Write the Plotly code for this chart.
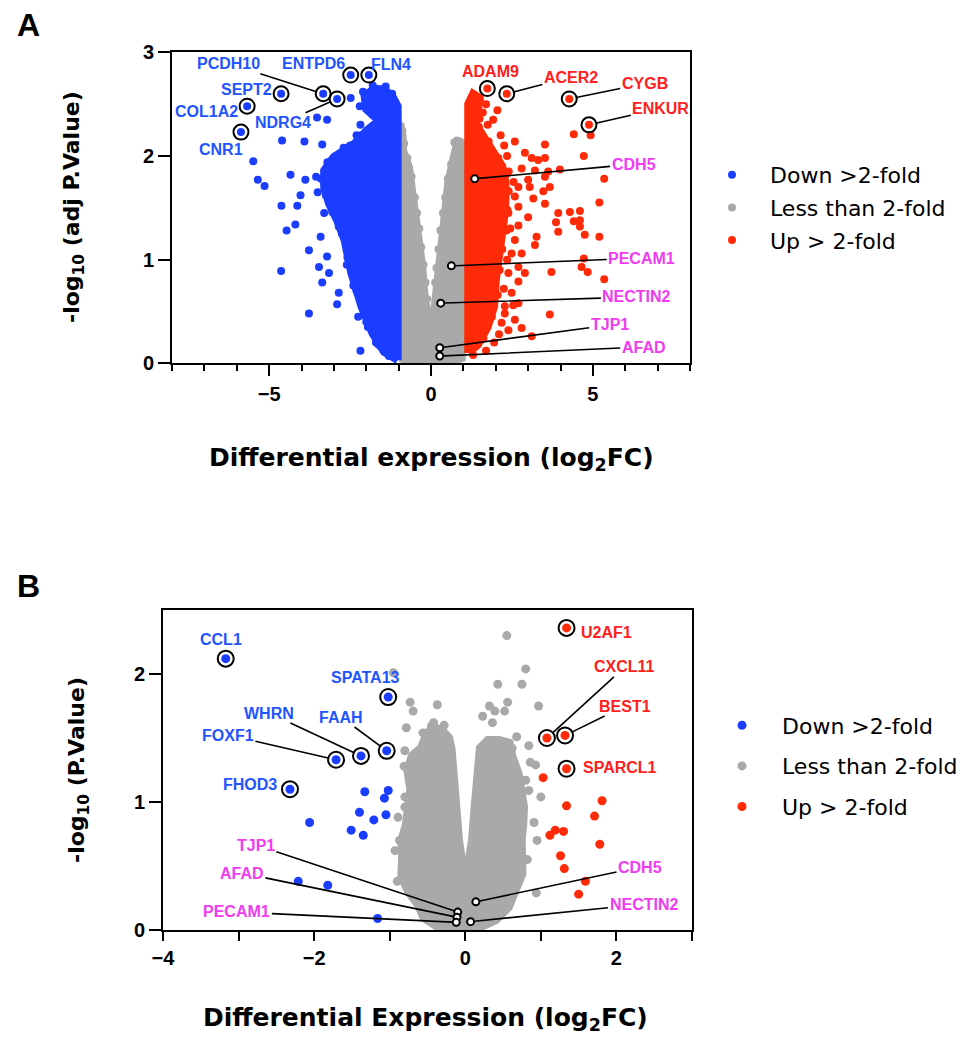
import plotly.graph_objects as go

# ======================= DATA =======================
# ---- Panel A : -log10(adj P) vs log2FC ----
# dense clouds: dot centres along the edge of each dense point cloud
A_gray_cloud = [(-0.95, 0.05), (-0.95, 1.2), (-0.95, 2.24), (-0.88, 2.2), (-0.86, 2.05), (-0.68, 1.89),
                (-0.53, 1.57), (-0.38, 1.25), (-0.27, 0.93), (-0.19, 0.61), (-0.07, 0.42), (0.0, 0.36),
                (0.07, 0.42), (0.2, 0.77), (0.27, 1.09), (0.38, 1.41), (0.53, 1.73), (0.68, 1.96),
                (0.8, 2.11), (0.95, 2.11), (0.95, 1.2), (0.95, 0.05), (0.5, 0.0), (0.0, -0.03), (-0.5, 0.0)]
A_gray_dots = [(-0.93, 2.29), (-0.88, 2.24), (-0.83, 2.12), (-0.73, 1.98), (-0.6, 1.8), (-0.5, 1.6),
               (-0.43, 1.45), (-0.36, 1.3), (-0.3, 1.12), (-0.23, 0.95), (-0.17, 0.78), (-0.12, 0.62),
               (-0.04, 0.45), (0.72, 2.13), (0.8, 2.15), (0.9, 2.14), (0.62, 1.92), (0.52, 1.78),
               (0.44, 1.6), (0.37, 1.45), (0.29, 1.28), (0.23, 1.1), (0.17, 0.92), (0.13, 0.78), (0.05, 0.5)]
A_down_cloud = [(-1.03, 0.03), (-1.45, 0.11), (-1.81, 0.29), (-2.15, 0.55), (-2.46, 0.87), (-2.67, 1.19),
                (-2.9, 1.38), (-3.15, 1.54), (-3.3, 1.7), (-3.3, 1.86), (-3.0, 1.99), (-2.36, 2.12),
                (-1.97, 2.25), (-1.6, 2.34), (-2.0, 2.45), (-2.05, 2.58), (-1.75, 2.65), (-1.45, 2.64),
                (-1.2, 2.58), (-1.03, 2.48)]
A_down_dots = [(-5.49, 1.95), (-5.35, 1.77), (-5.14, 1.71), (-4.60, 2.15), (-3.91, 2.14), (-3.36, 2.11),
               (-4.34, 1.82), (-4.62, 1.52), (-4.13, 1.52), (-4.03, 1.62), (-4.46, 1.28), (-4.19, 1.34),
               (-4.63, 0.89), (-3.77, 1.09), (-3.77, 0.48), (-3.88, 1.77), (-3.41, 1.22), (-3.21, 1.03),
               (-3.46, 0.93), (-3.36, 0.78), (-3.15, 0.87), (-2.85, 0.68), (-2.90, 0.57), (-2.18, 0.12),
               (-3.21, 2.35), (-3.52, 2.37), (-2.48, 2.56), (-2.18, 2.30), (-1.81, 2.40), (-1.56, 2.33),
               (-3.55, 1.80), (-3.5, 1.65), (-3.3, 1.45), (-3.1, 1.95), (-2.7, 2.05), (-2.5, 2.1),
               (-2.3, 2.2), (-2.2, 2.48), (-2.1, 2.62), (-1.8, 2.68), (-1.4, 2.67), (-1.2, 2.6),
               (-2.55, 1.1), (-2.75, 1.25), (-2.4, 0.75), (-2.25, 0.45), (-1.95, 0.35), (-1.7, 0.2),
               (-1.3, 0.07), (-2.85, 1.32), (-3.05, 1.5), (-2.6, 0.95), (-2.0, 0.5),
               (-1.62, 0.18), (-2.0, 0.4), (-2.3, 0.7), (-2.58, 1.02), (-2.78, 1.3), (-3.05, 1.46),
               (-3.25, 1.62), (-3.4, 1.78), (-3.2, 1.94), (-2.7, 2.08), (-2.15, 2.2)]
A_up_cloud = [(1.15, 0.1), (1.45, 0.18), (1.75, 0.35), (1.95, 0.55), (2.0, 0.8), (2.1, 1.0), (2.2, 1.19),
              (2.25, 1.38), (2.3, 1.58), (2.3, 1.74), (2.2, 1.9), (1.9, 2.06), (1.59, 2.2), (1.34, 2.33),
              (1.45, 2.45), (1.5, 2.56), (1.3, 2.6), (1.15, 2.5)]
A_up_dots = [(2.05, 2.44), (1.92, 2.35), (1.22, 2.49), (1.31, 2.56), (1.51, 2.54), (4.41, 2.21), (4.93, 2.20),
             (4.72, 2.00), (5.35, 1.78), (5.20, 1.55), (5.20, 1.22), (4.72, 1.01), (4.65, 0.93), (4.84, 0.88),
             (5.35, 0.81), (3.72, 0.88), (3.67, 0.47), (4.29, 1.46), (4.60, 1.47), (4.60, 1.38), (4.60, 1.32),
             (4.41, 1.37), (3.93, 1.45), (3.86, 1.36), (3.93, 1.27), (4.75, 1.24), (3.98, 1.87), (3.52, 2.11),
             (3.52, 1.98), (2.59, 2.14), (2.26, 2.10), (2.90, 2.03), (3.31, 1.96), (3.62, 1.85), (3.47, 1.66),
             (3.52, 1.54), (3.16, 1.59), (3.05, 1.70), (3.00, 1.41), (3.26, 1.22), (3.21, 1.14), (2.70, 1.33),
             (2.80, 1.06), (2.90, 0.87), (2.70, 0.79), (2.54, 0.56), (2.28, 0.48), (2.80, 0.34), (3.11, 0.26),
             (2.39, 0.32), (1.46, 0.21), (3.11, 1.98), (3.21, 1.86), (2.80, 1.88), (3.00, 1.77), (3.52, 1.80),
             (3.67, 1.70), (2.70, 1.70), (2.59, 1.61), (2.70, 1.51), (2.39, 1.45), (2.59, 1.19), (2.49, 1.06),
             (2.70, 0.93), (2.39, 0.87), (2.49, 0.68), (2.28, 0.55), (2.70, 0.58), (2.18, 0.39), (2.59, 0.42),
             (2.4, 1.85), (2.55, 1.75), (2.45, 1.3), (2.35, 1.0), (2.25, 0.72), (2.1, 0.28), (1.95, 0.2),
             (1.7, 0.12), (1.3, 0.08), (2.15, 2.2), (2.35, 2.0), (1.75, 2.3), (1.6, 2.42), (1.7, 2.5),
             (1.62, 0.24), (1.88, 0.45), (2.06, 0.66), (2.12, 0.9), (2.2, 1.1), (2.33, 1.28), (2.36, 1.48),
             (2.4, 1.66), (2.32, 1.82), (2.08, 1.98), (1.78, 2.14), (1.48, 2.28), (1.5, 2.36)]
A_genes = ["PCDH10", "NDRG4", "ENTPD6", "FLN4", "SEPT2", "COL1A2", "CNR1",
           "ADAM9", "ACER2", "CYGB", "ENKUR",
           "CDH5", "PECAM1", "NECTIN2", "TJP1", "AFAD"]
A_gene_x = [-3.33, -2.90, -2.48, -1.92, -4.63, -5.68, -5.87, 1.74, 2.34, 4.27, 4.88, 1.35, 0.63, 0.30, 0.27, 0.27]
A_gene_y = [2.60, 2.55, 2.78, 2.78, 2.60, 2.48, 2.23, 2.65, 2.60, 2.55, 2.30, 1.78, 0.94, 0.58, 0.15, 0.07]
A_gene_class = ["down"] * 7 + ["up"] * 4 + ["junction"] * 5

# ---- Panel B : -log10(P) vs log2FC ----
B_gray_cloud = [(0.0, -0.03), (-0.35, 0.02), (-0.55, 0.1), (-0.62, 0.2), (-0.75, 0.3), (-0.84, 0.42),
                (-0.83, 0.55), (-0.84, 0.7), (-0.78, 0.82), (-0.74, 0.96), (-0.72, 1.1), (-0.76, 1.25),
                (-0.7, 1.36), (-0.58, 1.42), (-0.5, 1.54), (-0.4, 1.58), (-0.3, 1.55), (-0.22, 1.5),
                (-0.19, 1.42), (-0.16, 1.22), (-0.12, 0.96), (-0.09, 0.7), (0.0, 0.35), (0.095, 0.7),
                (0.13, 0.96), (0.16, 1.22), (0.2, 1.42), (0.3, 1.48), (0.45, 1.48), (0.58, 1.46),
                (0.62, 1.35), (0.70, 1.22), (0.74, 1.09), (0.77, 0.96), (0.76, 0.82), (0.74, 0.7),
                (0.75, 0.44), (0.66, 0.3), (0.57, 0.18), (0.4, 0.08), (0.2, 0.02)]
B_gray_dots = [(-0.95, 2.01), (0.55, 2.30), (0.80, 2.04), (0.43, 1.92), (0.75, 1.92), (-0.73, 1.78),
               (-0.37, 1.76), (-0.69, 1.71), (0.56, 1.78), (0.32, 1.75), (0.39, 1.71), (0.52, 1.71),
               (0.23, 1.67), (0.36, 1.62), (0.97, 1.75), (-0.78, 1.58), (-0.56, 1.54), (-0.45, 1.59),
               (-0.32, 1.54), (-0.80, 1.40), (-0.45, 1.39), (0.68, 1.51), (0.26, 1.45), (0.84, 1.44),
               (0.62, 1.42), (0.51, 1.43), (-0.81, 1.28), (-0.65, 1.28), (-0.80, 1.04), (-0.80, 0.96),
               (-0.89, 0.88), (-0.87, 0.70), (-0.93, 0.62), (-0.82, 0.49), (-0.90, 0.38), (1.0, 1.04),
               (0.91, 0.84), (0.94, 0.29), (-0.56, 0.13), (0.86, 1.31), (0.93, 1.29), (0.80, 1.17),
               (0.84, 1.09), (0.95, 0.70), (-0.42, 1.62), (-0.28, 1.6), (-0.62, 0.45), (0.82, 0.55)]
B_down_dots = [(-1.33, 1.08), (-1.02, 1.09), (-1.07, 1.03), (-1.40, 0.92), (-1.21, 0.86), (-1.05, 0.90),
               (-1.51, 0.78), (-1.35, 0.74), (-2.06, 0.84), (-2.21, 0.38), (-1.82, 0.35), (-1.16, 0.09)]
B_up_dots = [(1.03, 1.19), (1.34, 0.97), (1.81, 1.01), (1.71, 0.89), (1.12, 0.74), (1.19, 0.78), (1.30, 0.77),
             (1.78, 0.67), (1.26, 0.58), (1.31, 0.48), (1.59, 0.38), (1.50, 0.28)]
B_genes = ["CCL1", "SPATA13", "FAAH", "WHRN", "FOXF1", "FHOD3",
           "U2AF1", "CXCL11", "BEST1", "SPARCL1",
           "TJP1", "AFAD", "PECAM1", "CDH5", "NECTIN2"]
B_gene_x = [-3.17, -1.02, -1.04, -1.38, -1.71, -2.32, 1.34, 1.08, 1.32, 1.34, -0.10, -0.11, -0.12, 0.14, 0.07]
B_gene_y = [2.12, 1.82, 1.40, 1.36, 1.33, 1.10, 2.36, 1.50, 1.52, 1.26, 0.14, 0.10, 0.06, 0.22, 0.065]
B_gene_class = ["down"] * 6 + ["up"] * 4 + ["junction"] * 5

legend_names = {"down": "Down >2-fold", "ns": "Less than 2-fold", "up": "Up > 2-fold"}

# ======================= STYLE / LAYOUT =======================
PAGE_W, PAGE_H, BODY = 968, 1038, 8          # the html body adds an 8 px margin
W, H = PAGE_W - BODY, PAGE_H - BODY
BLUE, GRAY, RED = "#1A3DFF", "#A9A9A9", "#FF2B08"
TXT = {"down": "#1F55FF", "up": "#FF2020", "junction": "#F03CF0"}
ARIAL = "Arial"
WIDE = "DejaVu Sans"


def px_x(px):
    return (px - BODY) / W


def px_y(py):
    return (PAGE_H - py) / H


# label placement (layout, in axis units) and whether a leader line is drawn
A_label_pos = {"PCDH10": (-6.24, 2.89, True), "NDRG4": (-4.58, 2.32, True), "ENTPD6": (-3.62, 2.89, False),
               "FLN4": (-1.24, 2.885, False), "SEPT2": (-5.69, 2.645, False), "COL1A2": (-6.92, 2.43, False),
               "CNR1": (-6.49, 2.065, False), "ADAM9": (1.85, 2.815, False), "ACER2": (4.32, 2.76, True),
               "CYGB": (6.60, 2.70, True), "ENKUR": (7.10, 2.46, True), "CDH5": (6.26, 1.92, True),
               "PECAM1": (6.51, 1.015, True), "NECTIN2": (6.36, 0.64, True), "TJP1": (5.52, 0.37, True),
               "AFAD": (6.57, 0.157, True)}
B_label_pos = {"CCL1": (-3.233, 2.266, False), "SPATA13": (-1.317, 1.969, False), "FAAH": (-1.645, 1.664, True),
               "WHRN": (-2.598, 1.695, True), "FOXF1": (-3.141, 1.523, True), "FHOD3": (-2.85, 1.133, False),
               "U2AF1": (1.875, 2.328, False), "CXCL11": (2.113, 2.055, True), "BEST1": (2.113, 1.75, True),
               "SPARCL1": (2.047, 1.273, False), "TJP1": (-2.771, 0.664, True), "AFAD": (-2.956, 0.445, True),
               "PECAM1": (-3.022, 0.141, True), "CDH5": (2.312, 0.492, True), "NECTIN2": (2.365, 0.203, True)}


def xy(pts, close=False):
    xs = [p[0] for p in pts]
    ys = [p[1] for p in pts]
    if close:
        xs.append(xs[0]); ys.append(ys[0])
    return xs, ys


fig = go.Figure()


def add_cloud(pts, color, size, xa, ya, group, leg):
    xs, ys = xy(pts, close=True)
    fig.add_trace(go.Scatter(x=xs, y=ys, mode="lines", fill="toself", fillcolor=color,
                             line=dict(color=color, width=size), xaxis=xa, yaxis=ya,
                             legendgroup=group, legend=leg, showlegend=False, hoverinfo="skip"))


def add_dots(pts, color, size, xa, ya, group, leg, rank):
    xs, ys = xy(pts)
    fig.add_trace(go.Scatter(x=xs, y=ys, mode="markers", marker=dict(color=color, size=size, line=dict(width=0)),
                             xaxis=xa, yaxis=ya, name=legend_names[group], legendgroup=group,
                             legend=leg, legendrank=rank, showlegend=True, hoverinfo="skip"))


def add_genes(genes, gx, gy, gcls, xa, ya, size, ring):
    col = {"down": BLUE, "up": RED}
    for cls in ("down", "up"):
        idx = [i for i, c in enumerate(gcls) if c == cls]
        fig.add_trace(go.Scatter(x=[gx[i] for i in idx], y=[gy[i] for i in idx], mode="markers",
                                 marker=dict(color=col[cls], size=size), xaxis=xa, yaxis=ya,
                                 showlegend=False, hoverinfo="skip"))
        fig.add_trace(go.Scatter(x=[gx[i] for i in idx], y=[gy[i] for i in idx], mode="markers",
                                 marker=dict(symbol="circle-open", color="black", size=ring, line=dict(width=2)),
                                 xaxis=xa, yaxis=ya, showlegend=False, hoverinfo="skip"))
    idx = [i for i, c in enumerate(gcls) if c == "junction"]
    fig.add_trace(go.Scatter(x=[gx[i] for i in idx], y=[gy[i] for i in idx], mode="markers",
                             marker=dict(symbol="circle", color="white", size=7, line=dict(width=2, color="black")),
                             xaxis=xa, yaxis=ya, showlegend=False, hoverinfo="skip"))


# Panel A
add_cloud(A_gray_cloud, GRAY, 8, "x", "y", "ns", "legend")
add_dots(A_gray_dots, GRAY, 8, "x", "y", "ns", "legend", 2)
add_cloud(A_down_cloud, BLUE, 8, "x", "y", "down", "legend")
add_dots(A_down_dots, BLUE, 8, "x", "y", "down", "legend", 1)
add_cloud(A_up_cloud, RED, 8, "x", "y", "up", "legend")
add_dots(A_up_dots, RED, 8, "x", "y", "up", "legend", 3)
add_genes(A_genes, A_gene_x, A_gene_y, A_gene_class, "x", "y", 8, 15)

# Panel B
add_cloud(B_gray_cloud, GRAY, 9, "x2", "y2", "ns", "legend2")
add_dots(B_gray_dots, GRAY, 9, "x2", "y2", "ns", "legend2", 2)
add_dots(B_down_dots, BLUE, 9, "x2", "y2", "down", "legend2", 1)
add_dots(B_up_dots, RED, 9, "x2", "y2", "up", "legend2", 3)
add_genes(B_genes, B_gene_x, B_gene_y, B_gene_class, "x2", "y2", 9, 16)

annotations = []


def gene_labels(genes, gx, gy, gcls, pos, xr, yr):
    for g, x, y, c in zip(genes, gx, gy, gcls):
        lx, ly, line = pos[g]
        font = dict(family=ARIAL, size=16, color=TXT[c], weight="bold")
        if line:
            annotations.append(dict(x=x, y=y, xref=xr, yref=yr, ax=lx, ay=ly, axref=xr, ayref=yr,
                                    text=g, showarrow=True, arrowhead=0, arrowwidth=1.6, arrowcolor="black",
                                    standoff=7 if c != "junction" else 4, font=font))
        else:
            annotations.append(dict(x=lx, y=ly, xref=xr, yref=yr, text=g, showarrow=False,
                                    xanchor="center", yanchor="middle", font=font))


gene_labels(A_genes, A_gene_x, A_gene_y, A_gene_class, A_label_pos, "x", "y")
gene_labels(B_genes, B_gene_x, B_gene_y, B_gene_class, B_label_pos, "x2", "y2")

for text, (px, py), size, ang in [
    ("Differential expression (log<sub>2</sub>FC)", (431, 459), 25, 0),
    ("-log<sub>10</sub> (adj P.Value)", (74, 207), 22, -90),
    ("Differential Expression (log<sub>2</sub>FC)", (425, 1019), 25, 0),
    ("-log<sub>10</sub> (P.Value)", (78, 770), 22, -90),
]:
    annotations.append(dict(x=px_x(px), y=px_y(py), xref="paper", yref="paper", text=text, showarrow=False,
                            xanchor="center", yanchor="middle", textangle=ang,
                            font=dict(family=WIDE, size=size, color="black", weight="bold")))

for text, (px, py) in [("A", (28, 25)), ("B", (28, 586))]:
    annotations.append(dict(x=px_x(px), y=px_y(py), xref="paper", yref="paper", text=text, showarrow=False,
                            xanchor="center", yanchor="middle",
                            font=dict(family=ARIAL, size=32, color="black", weight="bold")))

tickfont = dict(family=ARIAL, size=20, color="black", weight="bold")
axis_common = dict(showline=True, linewidth=2, linecolor="black", mirror=True, ticks="outside",
                   tickwidth=2, tickcolor="black", showgrid=False, zeroline=False, tickfont=tickfont,
                   automargin=False)
legend_common = dict(xanchor="left", yanchor="top", font=dict(family=WIDE, size=22, color="black"),
                     bgcolor="rgba(0,0,0,0)", traceorder="grouped", borderwidth=0)

fig.update_layout(
    template="none",
    width=W, height=H, margin=dict(l=0, r=0, t=0, b=0, pad=0, autoexpand=False),
    paper_bgcolor="white", plot_bgcolor="white", hovermode=False,
    font=dict(family=ARIAL, color="black"),
    xaxis=dict(domain=[px_x(172), px_x(690)], range=[-8, 8], tickmode="array", tickvals=[-5, 0, 5],
               ticklen=11, ticklabelstandoff=1, anchor="y",
               minor=dict(dtick=1, tick0=0, ticklen=6, tickwidth=2, tickcolor="black", ticks="outside", showgrid=False),
               **axis_common),
    yaxis=dict(domain=[px_y(363.3), px_y(52.3)], range=[0, 3], tickmode="array", tickvals=[0, 1, 2, 3],
               ticklen=12, anchor="x", **axis_common),
    xaxis2=dict(domain=[px_x(163), px_x(692)], range=[-4, 3], tickmode="array", tickvals=[-4, -2, 0, 2],
                ticklen=9, ticklabelstandoff=0, anchor="y2",
                minor=dict(dtick=1, tick0=0, ticklen=9, tickwidth=2, tickcolor="black", ticks="outside", showgrid=False),
                **axis_common),
    yaxis2=dict(domain=[px_y(930), px_y(610)], range=[0, 2.5], tickmode="array", tickvals=[0, 1, 2],
                ticklen=12, anchor="x2", **axis_common),
    legend=dict(x=px_x(694), y=px_y(154), tracegroupgap=1, itemwidth=66, **legend_common),
    legend2=dict(x=px_x(702), y=px_y(704.5), tracegroupgap=9, itemwidth=70, **legend_common),
    annotations=annotations,
)

fig.write_html("out.html")
